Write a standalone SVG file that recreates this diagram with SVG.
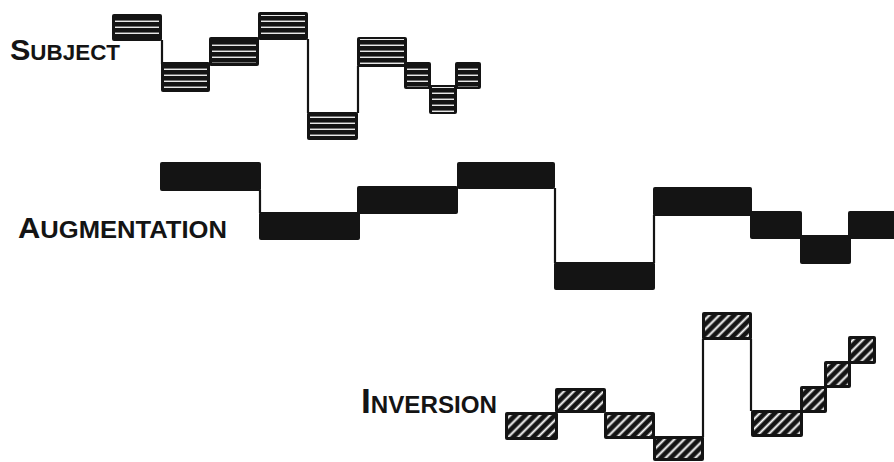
<svg xmlns="http://www.w3.org/2000/svg" width="894" height="462" viewBox="0 0 894 462">
<defs>
<pattern id="hstripe" width="8" height="6" patternUnits="userSpaceOnUse">
<rect x="0" y="2.6" width="8" height="1.3" fill="#fff"/>
</pattern>
<pattern id="diag" width="7" height="7" patternUnits="userSpaceOnUse" patternTransform="rotate(45)">
<rect x="2.5" y="0" width="2" height="7" fill="#fff"/>
</pattern>
</defs>
<style>
.blk{fill:#141414}
.subin{fill:url(#hstripe)}
.invin{fill:url(#diag)}
.conn{stroke:#141414;stroke-width:2.2;fill:none}
.lbl{font-family:"Liberation Sans","DejaVu Sans",sans-serif;font-weight:bold;fill:#141414}
</style>
<rect width="894" height="462" fill="#fff"/>

<g id="labels">
<text id="label-subject" class="lbl" x="10" y="60" textLength="110" lengthAdjust="spacingAndGlyphs"><tspan font-size="30">S</tspan><tspan font-size="22">UBJECT</tspan></text>
<text id="label-augmentation" class="lbl" x="18" y="238" textLength="209" lengthAdjust="spacingAndGlyphs"><tspan font-size="29">A</tspan><tspan font-size="24">UGMENTATION</tspan></text>
<text id="label-inversion" class="lbl" x="361" y="413" textLength="136" lengthAdjust="spacingAndGlyphs"><tspan font-size="35">I</tspan><tspan font-size="24">NVERSION</tspan></text>
</g>

<g id="connectors">
<line class="conn" x1="162" y1="40" x2="162" y2="64"/>
<line class="conn" x1="308" y1="39" x2="308" y2="113"/>
<line class="conn" x1="358" y1="66" x2="358" y2="113"/>
<line class="conn" x1="260" y1="190" x2="260" y2="213"/>
<line class="conn" x1="555" y1="188" x2="555" y2="263"/>
<line class="conn" x1="654" y1="215" x2="654" y2="263"/>
<line class="conn" x1="703" y1="339" x2="703" y2="437"/>
<line class="conn" x1="751" y1="339" x2="751" y2="411"/>
</g>

<g id="subject">
<g id="s1"><rect class="blk" x="112" y="14" width="50" height="27" rx="2"/><rect class="subin" x="115" y="17" width="44" height="21"/></g>
<g id="s2"><rect class="blk" x="161" y="62" width="49" height="30" rx="2"/><rect class="subin" x="164" y="64" width="43" height="26"/></g>
<g id="s3"><rect class="blk" x="209" y="37" width="50" height="29" rx="2"/><rect class="subin" x="212" y="40" width="44" height="23"/></g>
<g id="s4"><rect class="blk" x="258" y="12" width="50" height="28" rx="2"/><rect class="subin" x="261" y="15" width="44" height="22"/></g>
<g id="s5"><rect class="blk" x="307" y="112" width="51" height="28" rx="2"/><rect class="subin" x="310" y="114" width="45" height="24"/></g>
<g id="s6"><rect class="blk" x="357" y="37" width="50" height="30" rx="2"/><rect class="subin" x="360" y="39" width="44" height="26"/></g>
<g id="s7"><rect class="blk" x="404" y="62" width="27" height="27" rx="2"/><rect class="subin" x="407" y="64" width="21" height="23"/></g>
<g id="s8"><rect class="blk" x="429" y="85" width="28" height="29" rx="2"/><rect class="subin" x="432" y="87" width="22" height="25"/></g>
<g id="s9"><rect class="blk" x="455" y="62" width="26" height="27" rx="2"/><rect class="subin" x="458" y="64" width="20" height="23"/></g>
</g>

<g id="augmentation">
<rect id="a1" class="blk" x="160" y="162" width="101" height="29" rx="2"/>
<rect id="a2" class="blk" x="259" y="212" width="101" height="28" rx="2"/>
<rect id="a3" class="blk" x="357" y="186" width="101" height="28" rx="2"/>
<rect id="a4" class="blk" x="457" y="162" width="98" height="27" rx="2"/>
<rect id="a5" class="blk" x="554" y="262" width="101" height="28" rx="2"/>
<rect id="a6" class="blk" x="653" y="187" width="99" height="29" rx="2"/>
<rect id="a7" class="blk" x="750" y="211" width="52" height="28" rx="2"/>
<rect id="a8" class="blk" x="800" y="235" width="51" height="29" rx="2"/>
<rect id="a9" class="blk" x="848" y="211" width="50" height="28" rx="2"/>
</g>

<g id="inversion">
<g id="i1"><rect class="blk" x="505" y="412" width="53" height="28" rx="2"/><rect class="invin" x="508" y="415" width="47" height="22"/></g>
<g id="i2"><rect class="blk" x="555" y="388" width="51" height="25" rx="2"/><rect class="invin" x="558" y="391" width="45" height="19"/></g>
<g id="i3"><rect class="blk" x="604" y="412" width="51" height="27" rx="2"/><rect class="invin" x="607" y="415" width="45" height="21"/></g>
<g id="i4"><rect class="blk" x="653" y="436" width="51" height="25" rx="2"/><rect class="invin" x="656" y="439" width="45" height="19"/></g>
<g id="i5"><rect class="blk" x="702" y="312" width="50" height="28" rx="2"/><rect class="invin" x="705" y="315" width="44" height="22"/></g>
<g id="i6"><rect class="blk" x="751" y="410" width="52" height="27" rx="2"/><rect class="invin" x="754" y="413" width="46" height="21"/></g>
<g id="i7"><rect class="blk" x="800" y="386" width="27" height="27" rx="2"/><rect class="invin" x="803" y="389" width="21" height="21"/></g>
<g id="i8"><rect class="blk" x="824" y="361" width="27" height="27" rx="2"/><rect class="invin" x="827" y="364" width="21" height="21"/></g>
<g id="i9"><rect class="blk" x="848" y="336" width="28" height="28" rx="2"/><rect class="invin" x="851" y="339" width="22" height="22"/></g>
</g>
</svg>
